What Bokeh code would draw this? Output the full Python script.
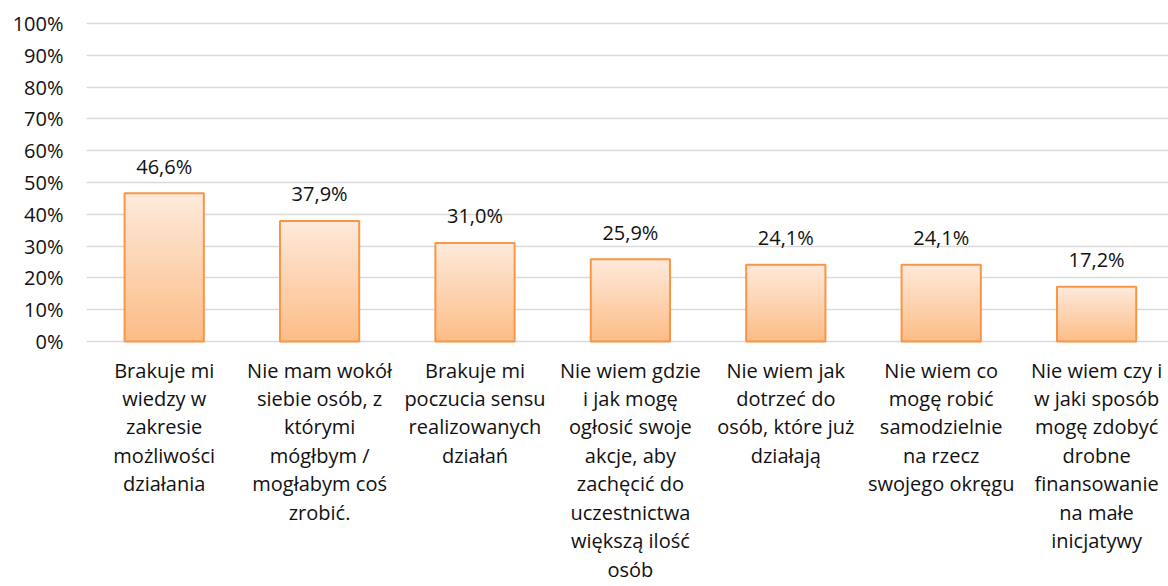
from bokeh.plotting import figure
from bokeh.models import Range1d, FixedTicker, NumeralTickFormatter, ColumnDataSource
from bokeh.core.properties import value
from bokeh.embed import file_html
from bokeh.resources import INLINE

categories = [
    "Brakuje mi\nwiedzy w\nzakresie\nmożliwości\ndziałania",
    "Nie mam wokół\nsiebie osób, z\nktórymi\nmógłbym /\nmogłabym coś\nzrobić.",
    "Brakuje mi\npoczucia sensu\nrealizowanych\ndziałań",
    "Nie wiem gdzie\ni jak mogę\nogłosić swoje\nakcje, aby\nzachęcić do\nuczestnictwa\nwiększą ilość\nosób",
    "Nie wiem jak\ndotrzeć do\nosób, które już\ndziałają",
    "Nie wiem co\nmogę robić\nsamodzielnie\nna rzecz\nswojego okręgu",
    "Nie wiem czy i\nw jaki sposób\nmogę zdobyć\ndrobne\nfinansowanie\nna małe\ninicjatywy",
]
values = [0.466, 0.379, 0.310, 0.259, 0.241, 0.241, 0.172]
value_labels = ["46,6%", "37,9%", "31,0%", "25,9%", "24,1%", "24,1%", "17,2%"]
y_ticks = [0.0, 0.1, 0.2, 0.3, 0.4, 0.5, 0.6, 0.7, 0.8, 0.9, 1.0]

FONT = "Open Sans"
FS = "20px"

# layout in pixels
px_per_unit = 318.0
cat_px = 155.4
border_left = 86
frame_w = 1168 - border_left
border_top = 21
fig_h = 586
frame_h = fig_h - border_top
zero_from_top = 341 - border_top
y_top = zero_from_top / px_per_unit
y_start = -(frame_h - zero_from_top) / px_per_unit

p = figure(width=border_left + frame_w, height=fig_h,
           x_range=Range1d(0, frame_w / cat_px),
           y_range=Range1d(y_start, y_top),
           output_backend="svg", toolbar_location=None,
           min_border_left=border_left, min_border_right=0,
           min_border_top=border_top, min_border_bottom=0)
p.frame_width = frame_w
p.frame_height = frame_h
p.outline_line_color = None
p.background_fill_color = "white"
p.border_fill_color = "white"

p.xaxis.visible = False
p.xgrid.visible = False

yax = p.yaxis[0]
yax.ticker = FixedTicker(ticks=y_ticks)
yax.formatter = NumeralTickFormatter(format="0%")
yax.axis_line_color = None
yax.major_tick_line_color = None
yax.minor_tick_line_color = None
yax.major_tick_out = 0
yax.major_tick_in = 0
yax.major_label_standoff = 23
yax.major_label_text_font = FONT
yax.major_label_text_font_size = FS
yax.major_label_text_color = "#111111"

p.ygrid.ticker = FixedTicker(ticks=y_ticks)
p.ygrid.grid_line_color = "#D9D9D9"
p.ygrid.grid_line_width = 1.3

xs = [i + 0.5 for i in range(len(values))]

# gradient bars (top light -> bottom darker)
N = 40
c_top = (0xFE, 0xE9, 0xDA)
c_bot = (0xFC, 0xBD, 0x87)
gx, gt, gc = [], [], []
for k in range(N):
    t = k / (N - 1)
    col = "#%02x%02x%02x" % tuple(int(round(a + (b - a) * t)) for a, b in zip(c_top, c_bot))
    frac = 1 - k / N
    for x, v in zip(xs, values):
        gx.append(x)
        gt.append(v * frac)
        gc.append(col)
gsrc = ColumnDataSource(dict(x=gx, top=gt, color=gc))
p.vbar(x="x", top="top", bottom=0, width=0.51, source=gsrc,
       fill_color="color", line_color=None)

src = ColumnDataSource(dict(x=xs, top=values, lab=value_labels, cat=categories))
p.vbar(x="x", top="top", bottom=0, width=0.51, source=src,
       fill_alpha=0, line_color="#F79646", line_width=2)

p.text(x="x", y="top", text="lab", source=src,
       text_font=value(FONT), text_font_size=FS, text_color="#111111",
       text_align="center", text_baseline="alphabetic", y_offset=-27)

p.text(x="x", y=0, text="cat", source=src,
       text_font=value(FONT), text_font_size=FS, text_color="#111111",
       text_align="center", text_baseline="top", text_line_height=1.055,
       y_offset=15)

open("out.html", "w").write(file_html(p, INLINE))
